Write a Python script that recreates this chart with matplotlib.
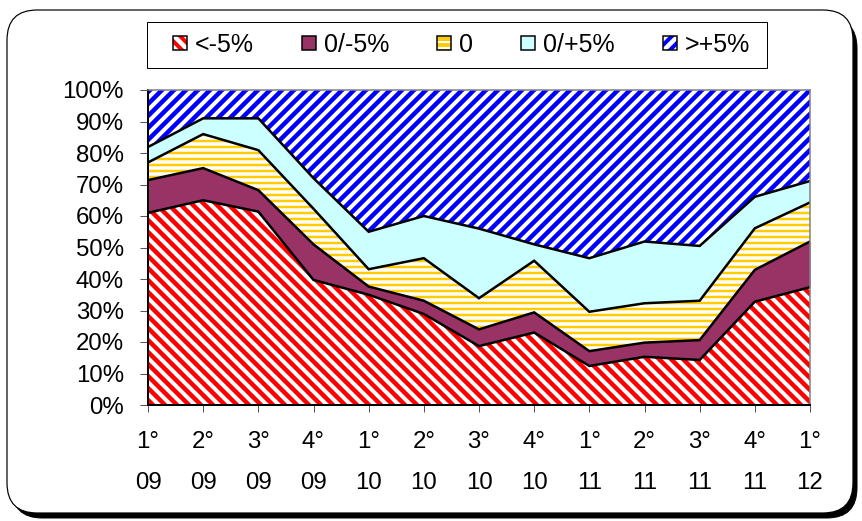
import matplotlib
matplotlib.use("Agg")
import matplotlib.pyplot as plt
from matplotlib.patches import FancyBboxPatch, Patch, Rectangle
from matplotlib.legend_handler import HandlerTuple
import numpy as np

quarters = ["1°\n09", "2°\n09", "3°\n09", "4°\n09",
            "1°\n10", "2°\n10", "3°\n10", "4°\n10",
            "1°\n11", "2°\n11", "3°\n11", "4°\n11", "1°\n12"]

# share of answers per class, percent (bottom to top)
below_m5 = [61.0, 65.0, 61.4, 39.7, 35.0, 28.9, 18.7, 23.0, 12.4, 15.3, 14.3, 32.8, 37.4]
m5_to_0 = [10.4, 10.2, 6.8, 11.3, 2.6, 4.2, 5.3, 6.4, 4.7, 4.5, 6.3, 10.1, 14.5]
zero = [5.6, 10.8, 12.7, 11.3, 5.5, 13.5, 9.9, 16.4, 12.5, 12.5, 12.5, 13.2, 12.4]
zero_to_p5 = [4.9, 5.0, 10.1, 9.7, 11.9, 13.4, 22.1, 5.2, 17.0, 19.6, 17.4, 10.0, 6.8]
above_p5 = [18.1, 9.0, 9.0, 28.0, 45.0, 40.0, 44.0, 49.0, 53.4, 48.1, 49.5, 33.9, 28.9]

series_labels = ["<-5%", "0/-5%", "0", "0/+5%", ">+5%"]

DPI = 72
W, H = 862, 521
FS = 24

plt.rcParams["font.family"] = ["Liberation Sans", "DejaVu Sans"]
plt.rcParams["font.size"] = FS


def hatch_width(artist, lw):
    # hatch line width is an rcParam, so set it around each draw
    orig_draw = artist.draw

    def draw(renderer):
        with plt.rc_context({"hatch.linewidth": lw}):
            orig_draw(renderer)
    artist.draw = draw


fig = plt.figure(figsize=(W / DPI, H / DPI), dpi=DPI)

# rounded frame with drop shadow, behind the axes
shadow = FancyBboxPatch((12 / W, 3 / H), 845 / W, 500 / H,
                        boxstyle="round,pad=0,rounding_size=0.035",
                        transform=fig.transFigure, facecolor="black",
                        edgecolor="black", mutation_aspect=W / H, zorder=-2)
frame = FancyBboxPatch((7 / W, 8 / H), 846 / W, 503 / H,
                       boxstyle="round,pad=0,rounding_size=0.035",
                       transform=fig.transFigure, facecolor="white",
                       edgecolor="black", linewidth=1.2, mutation_aspect=W / H, zorder=-1)
fig.patches.extend([shadow, frame])

ax = fig.add_axes([148 / W, 1 - 405 / H, 662 / W, 315 / H])
ax.set_facecolor("none")

x = np.arange(len(quarters))
layers = [below_m5, m5_to_0, zero, zero_to_p5, above_p5]
styles = [
    dict(face="white", edge="#FF0000", hatch="\\\\", lw=4.5),
    dict(face="#993366", edge="#993366", hatch=None, lw=1.0),
    dict(face="white", edge="#FFCC00", hatch="--", lw=2.5),
    dict(face="#CCFFFF", edge="#CCFFFF", hatch=None, lw=1.0),
    dict(face="white", edge="#0000FF", hatch="//", lw=4.5),
]

bottom = np.zeros(len(x))
handles = []
for vals, st, lab in zip(layers, styles, series_labels):
    top = bottom + np.array(vals)
    plt.rcParams["hatch.linewidth"] = st["lw"]
    area = ax.fill_between(x, bottom, top, facecolor=st["face"], edgecolor=st["edge"],
                           hatch=st["hatch"], linewidth=0, zorder=1)
    hatch_width(area, st["lw"])
    hatched = Patch(facecolor=st["face"], edgecolor=st["edge"], hatch=st["hatch"], linewidth=0)
    outline = Patch(facecolor="none", edgecolor="black", linewidth=1.5)
    handles.append((hatched, outline))
    if lab != series_labels[-1]:
        ax.plot(x, top, color="black", linewidth=2.5, zorder=3, solid_joinstyle="miter")
    bottom = top

ax.set_xlim(0, len(x) - 1)
ax.set_ylim(0, 100)
ax.set_xticks(x)
ax.set_xticklabels(quarters, linespacing=2.1)
ax.set_yticks(np.arange(0, 101, 10))
ax.set_yticklabels([f"{v}%" for v in range(0, 101, 10)])
ax.tick_params(axis="x", length=7, pad=19, width=1, color="#555555")
ax.tick_params(axis="y", length=8, pad=16, width=1, color="#555555")

for side in ["top", "right"]:
    ax.spines[side].set_color("#808080")
    ax.spines[side].set_linewidth(1.5)
for side in ["left", "bottom"]:
    ax.spines[side].set_color("black")
    ax.spines[side].set_linewidth(2)
for sp in ax.spines.values():
    sp.set_zorder(4)

# legend: plain box plus a frameless legend inside it
fig.patches.append(Rectangle((147 / W, 1 - 68 / H), 620 / W, 46 / H,
                             transform=fig.transFigure, facecolor="white",
                             edgecolor="black", linewidth=1, zorder=-1))
plt.rcParams["hatch.linewidth"] = 4.0
leg = fig.legend(handles, series_labels, loc="center left", ncol=5,
                 bbox_to_anchor=(173 / W, 1 - 45 / H), frameon=False,
                 handler_map={tuple: HandlerTuple(ndivide=1, pad=0)},
                 handlelength=0.56, handleheight=0.52, handletextpad=0.32,
                 columnspacing=1.92, borderaxespad=0, borderpad=0, fontsize=25)

fig.savefig("out.png", dpi=DPI)
